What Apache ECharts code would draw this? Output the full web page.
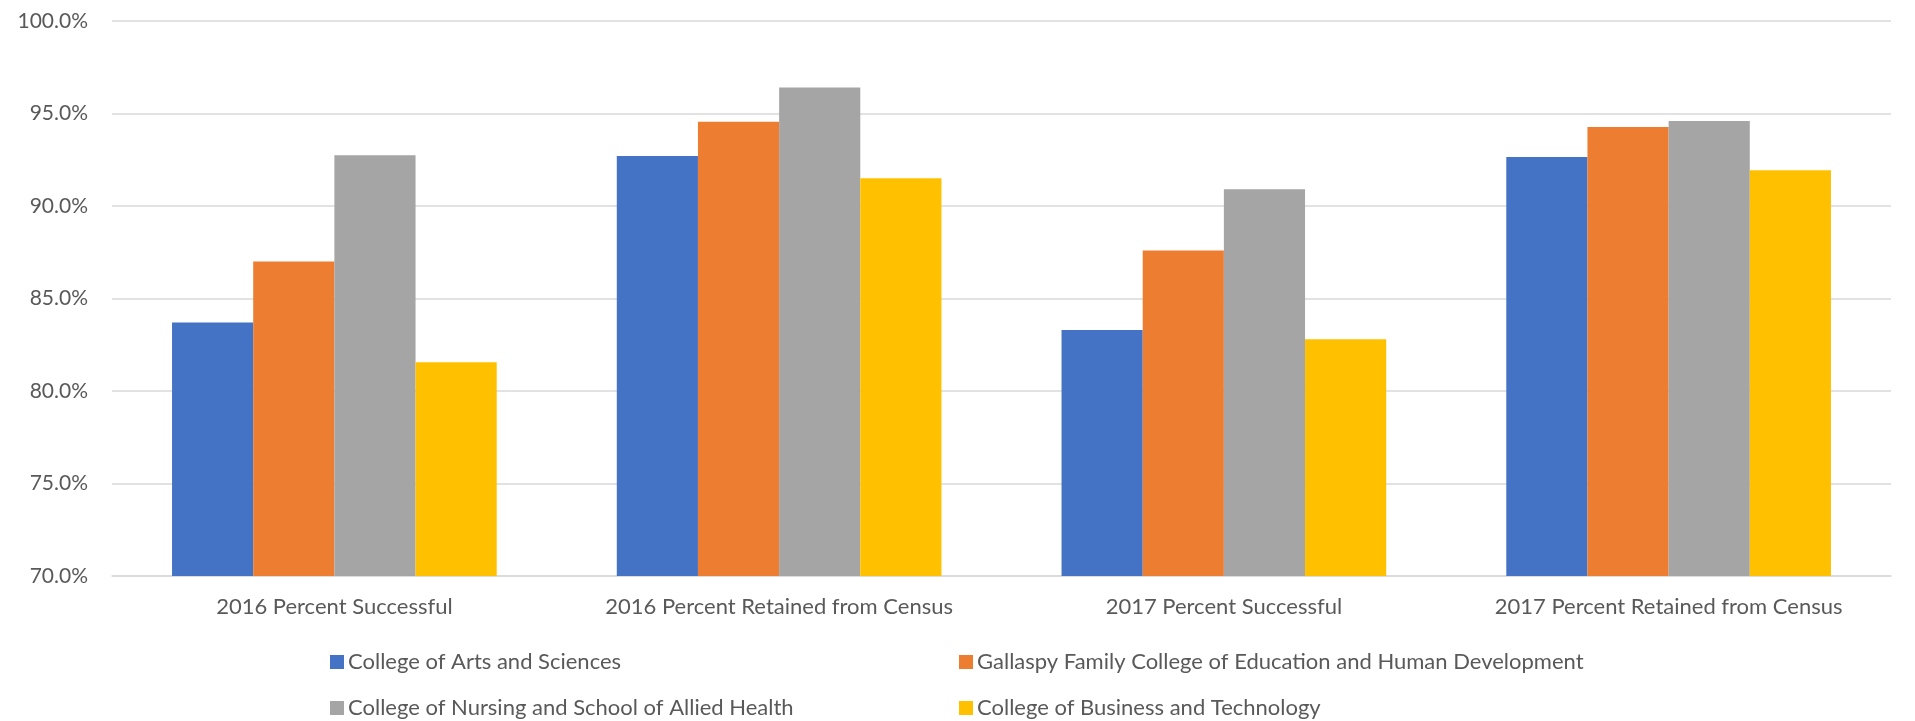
<!DOCTYPE html>
<html>
<head>
<meta charset="utf-8">
<script src="https://cdn.jsdelivr.net/npm/echarts@6/dist/echarts.min.js"></script>
<style>
  html, body { margin: 0; padding: 0; background: #fff; }
  #chart { width: 1915px; height: 721px; }
</style>
</head>
<body>
<div id="chart"></div>
<script>
// categories on the x axis
const categories = [
  '2016 Percent Successful',
  '2016 Percent Retained from Census',
  '2017 Percent Successful',
  '2017 Percent Retained from Census'
]

// one list per college (percent)
const artsSciences = [83.7, 92.7, 83.3, 92.65]
const gallaspyEducation = [87.0, 94.55, 87.6, 94.27]
const nursingAlliedHealth = [92.75, 96.4, 90.9, 94.6]
const businessTechnology = [81.55, 91.5, 82.8, 91.93]

const seriesNames = [
  'College of Arts and Sciences',
  'Gallaspy Family College of Education and Human Development',
  'College of Nursing and School of Allied Health',
  'College of Business and Technology'
]
const seriesValues = [artsSciences, gallaspyEducation, nursingAlliedHealth, businessTechnology]
const colors = ['#4472C4', '#ED7D31', '#A5A5A5', '#FFC000']

const font = 'Lato'
const textColor = '#595959'

// legend in two rows, two fixed columns
const legendPos = [
  { left: 330, top: 651 },
  { left: 959, top: 651 },
  { left: 330, top: 697 },
  { left: 959, top: 697 }
]

const chart = echarts.init(document.getElementById('chart'))
chart.setOption({
  animation: false,
  color: colors,
  grid: { left: 112, right: 24, top: 21, bottom: 145 },
  legend: seriesNames.map((name, i) => ({
    data: [name],
    left: legendPos[i].left,
    top: legendPos[i].top,
    itemWidth: 14,
    itemHeight: 14,
    itemGap: 0,
    icon: 'rect',
    selectedMode: false,
    padding: 0,
    textStyle: { color: textColor, fontFamily: font, fontSize: 22, padding: [0, 0, 0, -1] }
  })),
  xAxis: {
    type: 'category',
    data: categories,
    axisLine: { show: true, lineStyle: { color: '#d9d9d9', width: 1.5 } },
    axisTick: { show: false },
    axisLabel: { color: textColor, fontFamily: font, fontSize: 22, margin: 20, interval: 0 }
  },
  yAxis: {
    type: 'value',
    min: 70,
    max: 100,
    interval: 5,
    axisLine: { show: false },
    axisTick: { show: false },
    splitLine: { lineStyle: { color: '#d9d9d9', width: 1.5 } },
    axisLabel: {
      color: textColor,
      fontFamily: font,
      fontSize: 21,
      margin: 24,
      formatter: v => v.toFixed(1) + '%'
    }
  },
  series: seriesNames.map((name, i) => ({
    name: name,
    type: 'bar',
    data: seriesValues[i],
    barGap: '0%',
    barCategoryGap: '27%',
    itemStyle: { color: colors[i] }
  }))
})
</script>
</body>
</html>
